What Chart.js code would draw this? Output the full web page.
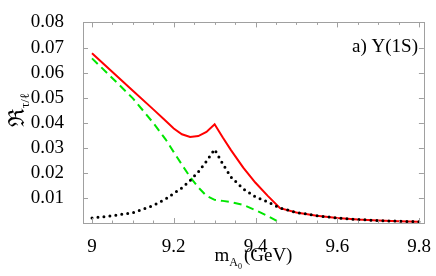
<!DOCTYPE html>
<html>
<head>
<meta charset="utf-8">
<script src="https://cdn.jsdelivr.net/npm/chart.js@4/dist/chart.umd.min.js"></script>
<style>
  html, body { margin: 0; padding: 0; background: #fff; }
  #wrap { width: 436px; height: 276px; }
</style>
</head>
<body>
<div id="wrap"><canvas id="c" width="436" height="276"></canvas></div>
<script>
// m_A0 in GeV (shared grid for all three curves)
const massGeV = [9.00, 9.05, 9.10, 9.15, 9.18, 9.20, 9.22, 9.24, 9.26, 9.28, 9.30,
                 9.32, 9.34, 9.37, 9.40, 9.43, 9.46, 9.50, 9.55, 9.60, 9.65, 9.70, 9.75, 9.80];

// red solid: total
const rTotal = [0.0677, 0.0603, 0.0528, 0.0454, 0.0409, 0.0378, 0.0355, 0.0344, 0.0348, 0.0364, 0.0395,
                0.0342, 0.0292, 0.0222, 0.0162, 0.0110, 0.0061, 0.0044, 0.0031, 0.0022, 0.0016, 0.0012, 0.0009, 0.0007];

// green dashed
const rDirect = [0.0657, 0.0578, 0.0498, 0.0400, 0.0335, 0.0284, 0.0234, 0.0185, 0.0144, 0.0110, 0.0094,
                 0.0090, 0.0085, 0.0074, 0.0053, 0.0030, 0.0003, null, null, null, null, null, null, null];

// black dotted
const rMixing = [0.0022, 0.0031, 0.0043, 0.0072, 0.0097, 0.0120, 0.0142, 0.0171, 0.0205, 0.0248, 0.0295,
                 0.0237, 0.0185, 0.0138, 0.0106, 0.0086, 0.0062, 0.0044, 0.0031, 0.0022, 0.0016, 0.0012, 0.0009, 0.0007];

const xTickLabels = ["9", "9.2", "9.4", "9.6", "9.8"];
const yTickLabels = ["0.01", "0.02", "0.03", "0.04", "0.05", "0.06", "0.07", "0.08"];

const SERIF = "'Liberation Serif', 'DejaVu Serif', serif";

function pts(ys) {
  return massGeV.map((m, i) => ({ x: m, y: ys[i] }));
}

// Mathematica-like frame: gray box, ticks pointing inward on all four sides
const framePlugin = {
  id: "frame",
  afterDatasetsDraw(chart) {
    const { ctx, chartArea: a, scales: { x, y } } = chart;
    ctx.save();
    ctx.strokeStyle = "#a0a0a0";
    ctx.lineWidth = 1;
    ctx.strokeRect(Math.round(a.left) + 0.5, Math.round(a.top) + 0.5,
                   Math.round(a.right - a.left), Math.round(a.bottom - a.top));
    ctx.beginPath();
    for (let k = 0; k <= 16; k++) {
      const v = 9 + k * 0.05;
      const px = Math.round(x.getPixelForValue(v)) + 0.5;
      const len = k % 4 === 0 ? 5 : 2.5;
      ctx.moveTo(px, a.bottom); ctx.lineTo(px, a.bottom - len);
      ctx.moveTo(px, a.top); ctx.lineTo(px, a.top + len);
    }
    for (let k = 1; k <= 8; k++) {
      const py = Math.round(y.getPixelForValue(k * 0.01)) + 0.5;
      ctx.moveTo(a.left, py); ctx.lineTo(a.left + 5, py);
      ctx.moveTo(a.right, py); ctx.lineTo(a.right - 5, py);
    }
    ctx.stroke();
    ctx.restore();
  },
  afterDraw(chart) {
    const { ctx, chartArea: a } = chart;
    ctx.save();
    ctx.fillStyle = "#000";

    // annotation
    ctx.font = "19px " + SERIF;
    ctx.textAlign = "right";
    ctx.textBaseline = "alphabetic";
    ctx.fillText("a) \u03A5(1S)", 418, 52);

    // x title: m_{A_0}(GeV)
    const parts = [
      { t: "m", f: 19, dy: 0 },
      { t: "A", f: 12, dy: 5 },
      { t: "0", f: 8, dy: 8 },
      { t: "(GeV)", f: 19, dy: 0, gap: 2 }
    ];
    let w = 0;
    for (const p of parts) { ctx.font = p.f + "px " + SERIF; p.w = ctx.measureText(p.t).width + (p.gap || 0); w += p.w; }
    let cx = (a.left + a.right) / 2 - w / 2;
    ctx.textAlign = "left";
    for (const p of parts) {
      ctx.font = p.f + "px " + SERIF;
      ctx.fillText(p.t, cx + (p.gap || 0), 261 + p.dy);
      cx += p.w;
    }

    // y title: R_{tau/l}, rotated
    ctx.translate(24, 110);
    ctx.rotate(-Math.PI / 2);
    ctx.font = "22px " + SERIF;
    const w1 = ctx.measureText("\u211C").width;
    ctx.font = "13px " + SERIF;
    const w2 = ctx.measureText("\u03C4/\u2113").width;
    let sx = -(w1 + w2) / 2;
    ctx.font = "22px " + SERIF;
    ctx.fillText("\u211C", sx, 0);
    ctx.font = "13px " + SERIF;
    ctx.fillText("\u03C4/\u2113", sx + w1, 5);
    ctx.restore();
  }
};

new Chart(document.getElementById("c"), {
  type: "line",
  data: {
    datasets: [
      {
        label: "mixing",
        data: pts(rMixing),
        borderColor: "#000",
        borderWidth: 3,
        borderDash: [0, 6],
        borderCapStyle: "round",
        pointRadius: 0,
        tension: 0,
        order: 0
      },
      {
        label: "total",
        data: pts(rTotal),
        borderColor: "#ff0000",
        borderWidth: 2,
        pointRadius: 0,
        tension: 0,
        order: 1
      },
      {
        label: "direct",
        data: pts(rDirect),
        borderColor: "#00e600",
        borderWidth: 2,
        borderDash: [8, 5],
        pointRadius: 0,
        tension: 0,
        spanGaps: false,
        order: 2
      }
    ]
  },
  options: {
    responsive: false,
    animation: false,
    layout: { padding: { top: 10, right: 8, left: 0, bottom: 0 } },
    plugins: { legend: { display: false }, tooltip: { enabled: false } },
    scales: {
      x: {
        type: "linear",
        min: 8.978,
        max: 9.812,
        grid: { display: false },
        border: { display: false },
        afterFit(s) { s.height = 53; },
        ticks: {
          stepSize: 0.2,
          includeBounds: false,
          padding: 5,
          color: "#000",
          font: { family: SERIF, size: 19 },
          maxRotation: 0,
          callback: (v) => {
            const i = Math.round((v - 9) / 0.2);
            return xTickLabels[i] ?? "";
          }
        }
      },
      y: {
        min: 0.0002,
        max: 0.08,
        grid: { display: false },
        border: { display: false },
        afterFit(s) { s.width = 83; },
        ticks: {
          stepSize: 0.01,
          includeBounds: false,
          padding: 11,
          color: "#000",
          font: { family: SERIF, size: 19 },
          callback: (v) => {
            const i = Math.round(v / 0.01) - 1;
            return yTickLabels[i] ?? "";
          }
        }
      }
    }
  },
  plugins: [framePlugin]
});
</script>
</body>
</html>
